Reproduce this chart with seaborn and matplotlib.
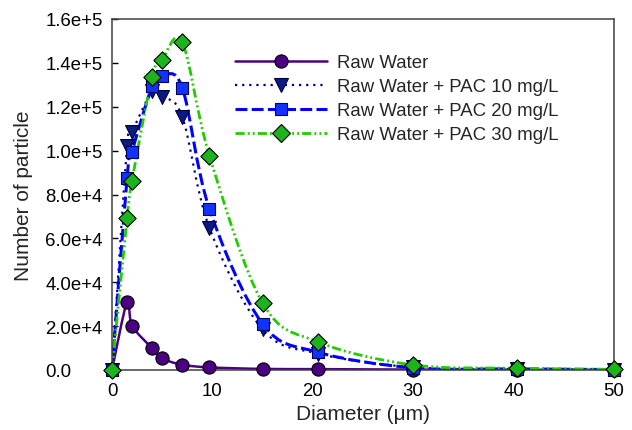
import numpy as np
import pandas as pd
import matplotlib
matplotlib.use("Agg")
import matplotlib.pyplot as plt
from matplotlib.path import Path
from matplotlib.patches import PathPatch
from matplotlib.lines import Line2D
from matplotlib.ticker import FuncFormatter
import seaborn as sns

# values
diameter = [0, 1.5, 2, 4, 5, 7, 9.7, 15, 20.5, 30, 40.3, 50]
raw_water = [0, 31000, 20200, 9900, 5300, 2400, 1200, 500, 400, 200, 100, 100]
pac_10 = [0, 102000, 108500, 127000, 124500, 115500, 64800, 18500, 7500, 1200, 400, 200]
pac_20 = [0, 87500, 99500, 129300, 134000, 128700, 73400, 21000, 8100, 1000, 500, 200]
pac_30 = [0, 69100, 86300, 133700, 141400, 149400, 97700, 30500, 12800, 2300, 800, 300]

series_names = ["Raw Water", "Raw Water + PAC 10 mg/L",
                "Raw Water + PAC 20 mg/L", "Raw Water + PAC 30 mg/L"]
series_values = [raw_water, pac_10, pac_20, pac_30]

df = pd.DataFrame({
    "diameter": diameter * 4,
    "count": raw_water + pac_10 + pac_20 + pac_30,
    "series": [n for n in series_names for _ in diameter],
})

line_colors = ["#4B0082", "#000080", "#0000FF", "#22CC00"]
face_colors = ["#4B0082", "#0A1A80", "#1133FF", "#1DB31D"]
edge_colors = ["#000000", "#000040", "#000060", "#000000"]
markers = ["o", "v", "s", "D"]
marker_sizes = [9.5, 10, 9, 8.8]
line_widths = [1.8, 1.6, 2.2, 2.0]
line_styles = ["-", (0, (1, 2.2)), (0, (3.9, 1.4)),
               (0, (3.3, 1.1, 0.7, 1.1, 0.7, 1.1))]

sns.set_style("ticks")
plt.rcParams["font.family"] = ["Liberation Sans", "DejaVu Sans"]

fig = plt.figure(figsize=(6.32, 4.31), dpi=100)
ax = fig.add_axes([112 / 632, 1 - 371 / 431, 502 / 632, 351 / 431])


def smooth_path(xs, ys):
    # excel-like smoothed line: catmull-rom segments as cubic bezier curves
    pts = np.column_stack([xs, ys]).astype(float)
    verts = [pts[0]]
    codes = [Path.MOVETO]
    n = len(pts)
    for i in range(n - 1):
        p0 = pts[max(i - 1, 0)]
        p1 = pts[i]
        p2 = pts[i + 1]
        p3 = pts[min(i + 2, n - 1)]
        c1 = p1 + (p2 - p0) / 6
        c2 = p2 - (p3 - p1) / 6
        verts += [c1, c2, p2]
        codes += [Path.CURVE4] * 3
    return Path(verts, codes)


handles = []
for i, name in enumerate(series_names):
    patch = PathPatch(smooth_path(diameter, series_values[i]), fill=False,
                      edgecolor=line_colors[i], lw=line_widths[i],
                      linestyle=line_styles[i], zorder=2 + i * 0.1,
                      capstyle="butt")
    ax.add_patch(patch)
    sub = df[df["series"] == name]
    sns.scatterplot(data=sub, x="diameter", y="count", ax=ax,
                    marker=markers[i], s=(marker_sizes[i] ** 2),
                    color=face_colors[i], edgecolor=edge_colors[i],
                    linewidth=0.8, zorder=3 + i * 0.1, legend=False,
                    clip_on=False)
    handles.append(Line2D([0], [0], color=line_colors[i], lw=line_widths[i],
                          linestyle=line_styles[i], marker=markers[i],
                          markersize=marker_sizes[i],
                          markerfacecolor=face_colors[i],
                          markeredgecolor=edge_colors[i],
                          markeredgewidth=0.8, label=name))

ax.set_xlim(0, 50)
ax.set_ylim(0, 160000)
ax.set_xticks(range(0, 51, 10))
ax.set_yticks(np.arange(0, 160001, 20000))


def sci_fmt(v, pos):
    if v == 0:
        return "0.0"
    e = int(np.floor(np.log10(v)))
    return f"{v / 10 ** e:.1f}e+{e}"


ax.yaxis.set_major_formatter(FuncFormatter(sci_fmt))
ax.tick_params(direction="in", length=4.5, width=1, labelsize=13.4,
               colors="#000000")
# y labels are left aligned in the original
ax.tick_params(axis="y", pad=48)
plt.setp(ax.get_yticklabels(), ha="left")
ax.tick_params(axis="x", pad=9)
for side in ["top", "bottom", "left", "right"]:
    ax.spines[side].set_visible(True)
    ax.spines[side].set_color("#404040")
    ax.spines[side].set_linewidth(1.1)

ax.set_xlabel("Diameter (\u03bcm)", fontsize=15, labelpad=3)
ax.set_ylabel("Number of particle", fontsize=15, labelpad=9)

fig.legend(handles=handles, loc="upper left",
           bbox_to_anchor=(235 / 632, 1 - 55 / 431),
           frameon=False, fontsize=13.4, handlelength=4.95,
           handletextpad=0.54, labelspacing=0.38, borderpad=0,
           borderaxespad=0)

fig.savefig("out.png", dpi=100)
